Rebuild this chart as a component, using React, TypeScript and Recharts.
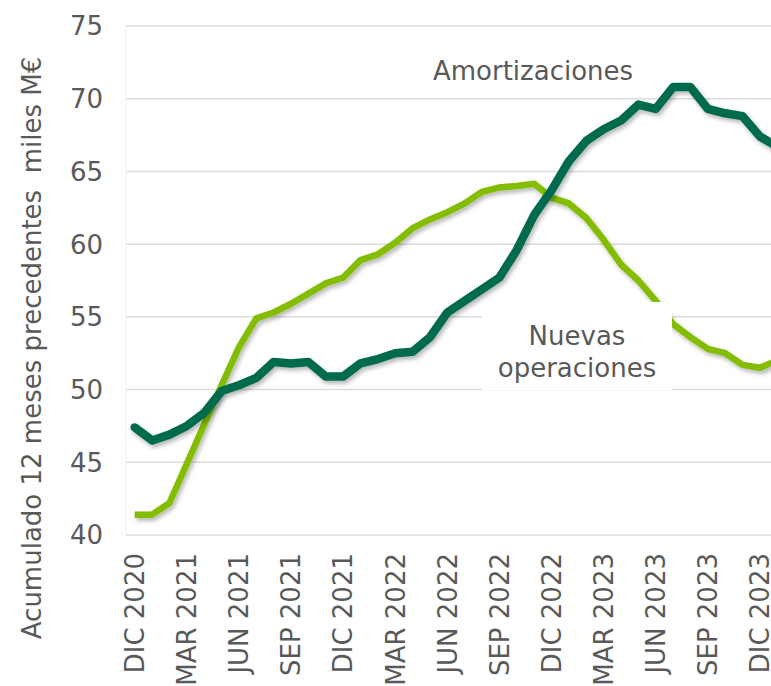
import React from 'react';
import { LineChart, Line, XAxis, YAxis, CartesianGrid } from 'recharts';

const meses = [
  'DIC 2020', 'ENE 2021', 'FEB 2021', 'MAR 2021', 'ABR 2021', 'MAY 2021', 'JUN 2021',
  'JUL 2021', 'AGO 2021', 'SEP 2021', 'OCT 2021', 'NOV 2021', 'DIC 2021',
  'ENE 2022', 'FEB 2022', 'MAR 2022', 'ABR 2022', 'MAY 2022', 'JUN 2022',
  'JUL 2022', 'AGO 2022', 'SEP 2022', 'OCT 2022', 'NOV 2022', 'DIC 2022',
  'ENE 2023', 'FEB 2023', 'MAR 2023', 'ABR 2023', 'MAY 2023', 'JUN 2023',
  'JUL 2023', 'AGO 2023', 'SEP 2023', 'OCT 2023', 'NOV 2023', 'DIC 2023', 'ENE 2024',
];

const amortizaciones = [
  47.4, 46.5, 46.9, 47.5, 48.4, 49.9, 50.3, 50.8, 51.9, 51.8, 51.9, 50.9, 50.9,
  51.8, 52.1, 52.5, 52.6, 53.6, 55.3, 56.1, 56.9, 57.7, 59.6, 62.0, 63.7,
  65.7, 67.1, 67.9, 68.5, 69.6, 69.3, 70.8, 70.8, 69.3, 69.0, 68.8, 67.4, 66.7,
];

const nuevasOperaciones = [
  41.4, 41.4, 42.2, 44.9, 47.6, 50.3, 52.9, 54.9, 55.3, 55.9, 56.6, 57.3, 57.7,
  58.9, 59.3, 60.1, 61.1, 61.7, 62.2, 62.8, 63.6, 63.9, 64.0, 64.15, 63.2,
  62.8, 61.8, 60.3, 58.6, 57.5, 56.1, 54.5, 53.6, 52.8, 52.5, 51.7, 51.5, 52.0,
];

const yTicks = [40, 45, 50, 55, 60, 65, 70, 75];

const yTitle = 'Acumulado 12 meses precedentes  miles M€';
const labelAmort = 'Amortizaciones';
const labelNuevas1 = 'Nuevas';
const labelNuevas2 = 'operaciones';

const data = meses.map((mes, i) => ({
  mes,
  amort: amortizaciones[i],
  nuevas: nuevasOperaciones[i],
}));

const FONT = '"DejaVu Sans", Verdana, sans-serif';
const GREY = '#595959';

const XTick = (props: any) => {
  const { x, payload } = props;
  const y = 553;
  return (
    <text
      x={x}
      y={y}
      dy="0.36em"
      transform={`rotate(-90, ${x}, ${y})`}
      textAnchor="end"
      fontFamily={FONT}
      fontSize={26}
      fill={GREY}
      style={{ whiteSpace: 'pre' }}
    >
      {payload.value}
    </text>
  );
};

const YTick = (props: any) => {
  const { y, payload } = props;
  return (
    <text
      x={103}
      y={y}
      dy="0.36em"
      textAnchor="end"
      fontFamily={FONT}
      fontSize={26}
      fill={GREY}
    >
      {payload.value}
    </text>
  );
};

const YTitle = () => (
  <text
    x={32}
    y={348}
    dy="0.36em"
    transform="rotate(-90, 32, 348)"
    textAnchor="middle"
    fontFamily={FONT}
    fontSize={26}
    fill={GREY}
    style={{ whiteSpace: 'pre' }}
  >
    {yTitle}
  </text>
);

export default function App() {
  return (
    <div
      style={{
        position: 'absolute',
        left: 0,
        top: 0,
        width: 771,
        height: 686,
        overflow: 'hidden',
        background: '#ffffff',
      }}
    >
      <svg width={0} height={0} style={{ position: 'absolute' }}>
        <defs>
          <filter id="lineShadow" x="-5%" y="-5%" width="110%" height="120%">
            <feDropShadow dx="2" dy="3" stdDeviation="2" floodColor="#000000" floodOpacity="0.28" />
          </filter>
        </defs>
      </svg>
      <LineChart
        width={786}
        height={686}
        data={data}
        margin={{ top: 26, right: 0, bottom: 0, left: 0 }}
      >
        <CartesianGrid horizontal vertical={false} stroke="#dcdcdc" strokeWidth={1.5} />
        <XAxis
          dataKey="mes"
          interval={2}
          height={151}
          tickLine={false}
          axisLine={{ stroke: '#cfcfcf', strokeWidth: 2, filter: 'url(#lineShadow)' }}
          padding={{ left: 8.7, right: 8.7 }}
          tick={<XTick />}
        />
        <YAxis
          domain={[40, 75]}
          ticks={yTicks}
          type="number"
          width={126}
          tickLine={false}
          axisLine={{ stroke: '#eeeeee', strokeWidth: 1 }}
          tick={<YTick />}
          label={{ content: <YTitle /> }}
        />
        <Line
          dataKey="nuevas"
          stroke="#84BD00"
          strokeWidth={6.5}
          strokeLinejoin="round"
          dot={false}
          activeDot={false}
          isAnimationActive={false}
          filter="url(#lineShadow)"
        />
        <Line
          dataKey="amort"
          stroke="#006A4E"
          strokeWidth={8.5}
          strokeLinejoin="round"
          strokeLinecap="round"
          dot={false}
          activeDot={false}
          isAnimationActive={false}
          filter="url(#lineShadow)"
        />
      </LineChart>
      <svg
        width={771}
        height={686}
        style={{ position: 'absolute', left: 0, top: 0, pointerEvents: 'none' }}
      >
        <text x={533} y={80} textAnchor="middle" fontFamily={FONT} fontSize={26} fill={GREY}>
          {labelAmort}
        </text>
        <rect x={482} y={302} width={190} height={88} fill="#ffffff" />
        <text x={577} y={345} textAnchor="middle" fontFamily={FONT} fontSize={26} fill={GREY}>
          {labelNuevas1}
        </text>
        <text x={577} y={377} textAnchor="middle" fontFamily={FONT} fontSize={26} fill={GREY}>
          {labelNuevas2}
        </text>
      </svg>
    </div>
  );
}
